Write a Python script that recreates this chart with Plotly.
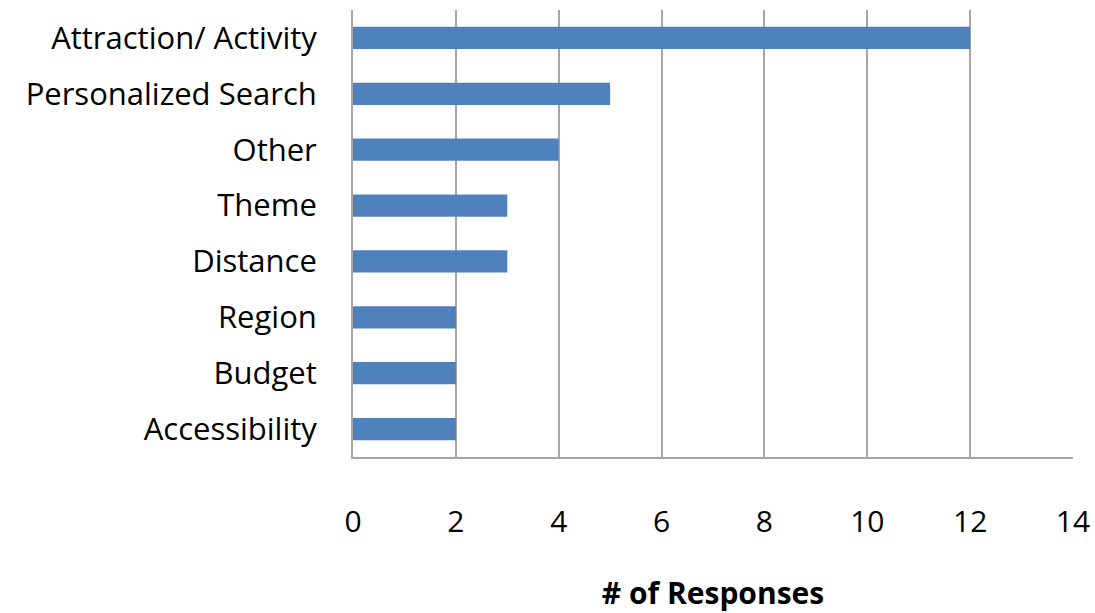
import plotly.graph_objects as go

categories = ["Accessibility", "Budget", "Region", "Distance", "Theme", "Other",
              "Personalized Search", "Attraction/ Activity"]
responses = [2, 2, 2, 3, 3, 4, 5, 12]
x_ticks = [0, 2, 4, 6, 8, 10, 12, 14]

fig = go.Figure(go.Bar(
    x=responses,
    y=categories,
    orientation="h",
    marker=dict(color="#4F81BD", line=dict(width=0)),
))

fig.update_layout(
    width=1095,
    height=613,
    margin=dict(l=353, r=22, t=10, b=156, autoexpand=False),
    paper_bgcolor="white",
    plot_bgcolor="white",
    bargap=0.6,
    font=dict(family="Open Sans, sans-serif", size=31, color="black"),
    showlegend=False,
)

fig.update_xaxes(
    range=[0, 14],
    tickvals=x_ticks,
    showgrid=True,
    gridcolor="#A6A6A6",
    gridwidth=2,
    showline=True,
    linecolor="#A6A6A6",
    linewidth=2,
    zeroline=False,
    ticks="",
    ticklabelstandoff=37,
    tickfont=dict(size=30),
    title=dict(text="<b># of Responses</b>", font=dict(size=30), standoff=46),
    automargin=False,
)

fig.update_yaxes(
    showgrid=False,
    showline=True,
    linecolor="#A6A6A6",
    linewidth=2,
    ticks="",
    ticklabelstandoff=28,
    tickfont=dict(size=31),
    automargin=False,
)

fig.write_html("out.html", config={"displayModeBar": False})

# drop the default page margin so the figure sits at the window origin
with open("out.html", encoding="utf-8") as f:
    page = f.read()
page = page.replace("<head>", "<head><style>body{margin:0;overflow:hidden}</style>", 1)
with open("out.html", "w", encoding="utf-8") as f:
    f.write(page)
